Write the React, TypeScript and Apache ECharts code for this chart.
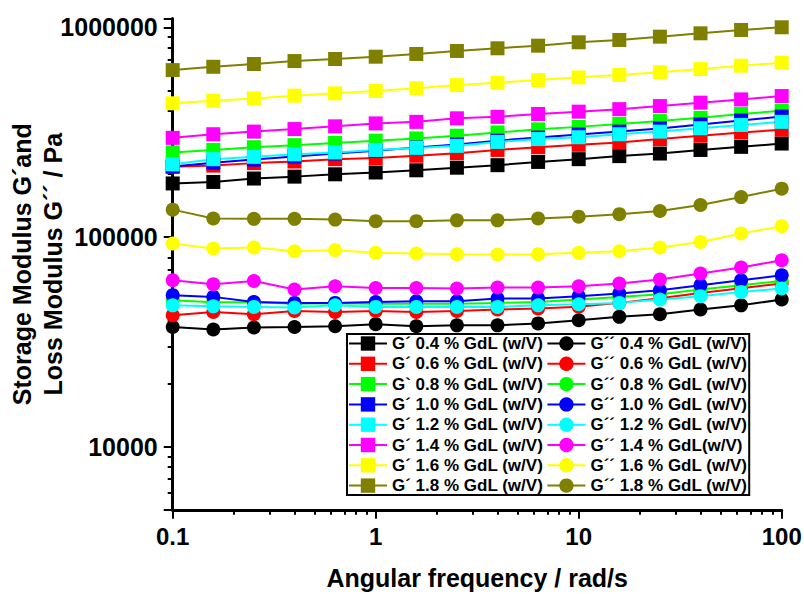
import React, { useEffect, useRef } from 'react';
import * as echarts from 'echarts';

const frequencies = [0.1, 0.1585, 0.2512, 0.3981, 0.631, 1, 1.585, 2.512, 3.981, 6.31, 10, 15.85, 25.12, 39.81, 63.1, 100];

const xTickLabels = ['0.1', '1', '10', '100'];
const yTickLabels = ['10000', '100000', '1000000'];

const colors = ['#000000', '#ff0000', '#00ff00', '#0000ff', '#00ffff', '#ff00ff', '#ffff00', '#808000'];

const storageNames = [
  'G´ 0.4 % GdL (w/V)',
  'G´ 0.6 % GdL (w/V)',
  'G` 0.8 % GdL (w/V)',
  'G´ 1.0 % GdL (w/V)',
  'G´ 1.2 % GdL (w/V)',
  'G´ 1.4 % GdL (w/V)',
  'G´ 1.6 % GdL (w/V)',
  'G´ 1.8 % GdL (w/V)',
];
const lossNames = [
  'G´´ 0.4 % GdL (w/V)',
  'G´´ 0.6 % GdL (w/V)',
  'G´´ 0.8 % GdL (w/V)',
  'G´´ 1.0 % GdL (w/V)',
  'G´´ 1.2 % GdL (w/V)',
  'G´´ 1.4 % GdL(w/V)',
  'G´´ 1.6 % GdL (w/V)',
  'G´´ 1.8 % GdL (w/V)',
];

// Storage modulus G' (Pa)
const gStorage04 = [180000, 183000, 190000, 194000, 199000, 203000, 208000, 214000, 220000, 228000, 235000, 243000, 250000, 260000, 269000, 279000];
const gStorage06 = [216000, 219000, 225000, 229000, 235000, 238000, 244000, 251000, 260000, 268000, 275000, 282000, 293000, 304000, 315000, 325000];
const gStorage08 = [253000, 260000, 268000, 274000, 281000, 288000, 295000, 304000, 315000, 326000, 335000, 346000, 357000, 370000, 386000, 400000];
const gStorage10 = [217000, 226000, 234000, 242000, 250000, 258000, 267000, 276000, 288000, 298000, 308000, 318000, 329000, 344000, 359000, 375000];
const gStorage12 = [222000, 235000, 241000, 248000, 253000, 260000, 266000, 272000, 284000, 293000, 299000, 309000, 318000, 330000, 342000, 354000];
const gStorage14 = [297000, 309000, 318000, 327000, 337000, 348000, 354000, 368000, 374000, 386000, 396000, 407000, 421000, 437000, 453000, 470000];
const gStorage16 = [434000, 446000, 458000, 472000, 484000, 497000, 512000, 530000, 544000, 560000, 577000, 592000, 610000, 632000, 656000, 678000];
const gStorage18 = [625000, 648000, 668000, 690000, 706000, 724000, 746000, 771000, 794000, 817000, 848000, 870000, 902000, 936000, 971000, 1000000];

// Loss modulus G'' (Pa)
const gLoss04 = [37200, 36200, 37000, 37200, 37500, 38400, 37500, 37900, 37900, 38700, 40100, 41600, 42800, 45100, 47200, 50300];
const gLoss06 = [42300, 43900, 42800, 44400, 43900, 44400, 43900, 44400, 45100, 45600, 46500, 48500, 51000, 54000, 57000, 60000];
const gLoss08 = [49900, 48800, 48800, 48000, 48300, 48000, 48000, 48000, 48500, 49000, 50300, 51800, 53300, 56200, 58900, 61700];
const gLoss10 = [52800, 51800, 49000, 48500, 48500, 49000, 49400, 49400, 50900, 50900, 52200, 53700, 55700, 58900, 62200, 65700];
const gLoss12 = [47200, 46700, 46400, 46100, 47200, 46400, 46400, 46400, 46400, 47200, 47800, 48500, 50300, 52200, 54700, 56800];
const gLoss14 = [62200, 59500, 61700, 56200, 58200, 57100, 57100, 56800, 57400, 57400, 58200, 60000, 62700, 67000, 71500, 77500];
const gLoss16 = [93100, 88100, 89100, 85500, 86500, 84000, 83400, 82800, 82500, 82800, 84000, 85500, 89100, 94700, 104000, 112600];
const gLoss18 = [135000, 122500, 122000, 122000, 121000, 119000, 119000, 120000, 120000, 122500, 125000, 128500, 133000, 142000, 155000, 170000];

const storageData = [gStorage04, gStorage06, gStorage08, gStorage10, gStorage12, gStorage14, gStorage16, gStorage18];
const lossData = [gLoss04, gLoss06, gLoss08, gLoss10, gLoss12, gLoss14, gLoss16, gLoss18];

export default function App() {
  const ref = useRef<HTMLDivElement>(null);

  useEffect(() => {
    document.body.style.margin = '0';
    if (!ref.current) return;
    const chart = echarts.init(ref.current, null, { renderer: 'svg' });
    const font = '"Liberation Sans", Arial, Helvetica, sans-serif';
    const fmt = (labels: string[]) => (v: number) => {
      const s = String(Number(v.toPrecision(6)));
      return labels.indexOf(s) >= 0 ? s : '';
    };
    const mk = (names: string[], data: number[][], symbol: string) =>
      data.map((d, i) => ({
        name: names[i],
        type: 'line',
        data: frequencies.map((f, j) => [f, d[j]]),
        symbol,
        symbolSize: 14,
        itemStyle: { color: colors[i] },
        lineStyle: { color: colors[i], width: 2 },
        emphasis: { disabled: true },
      }));
    const series = [...mk(storageNames, storageData, 'rect'), ...mk(lossNames, lossData, 'circle')];

    chart.setOption({
      animation: false,
      backgroundColor: '#ffffff',
      grid: { left: 172.7, right: 22.3, top: 18.6, bottom: 84.2, containLabel: false, outerBoundsMode: 'none' },
      xAxis: {
        type: 'log',
        logBase: 10,
        min: 0.1,
        max: 100,
        axisLine: { show: true, onZero: false, lineStyle: { color: '#000', width: 3 } },
        axisTick: { show: true, length: 9, lineStyle: { color: '#000', width: 2 } },
        minorTick: { show: true, splitNumber: 9, length: 5, lineStyle: { color: '#000', width: 2 } },
        splitLine: { show: false },
        axisLabel: {
          fontSize: 24,
          fontWeight: 'bold',
          color: '#000',
          fontFamily: font,
          margin: 15,
          formatter: fmt(xTickLabels),
        },
        name: 'Angular frequency / rad/s',
        nameLocation: 'middle',
        nameGap: 56,
        nameMoveOverlap: false,
        nameTextStyle: { fontSize: 25, fontWeight: 'bold', color: '#000', fontFamily: font },
      },
      yAxis: {
        type: 'log',
        logBase: 10,
        min: 5000,
        max: 1100000,
        axisLine: { show: true, onZero: false, lineStyle: { color: '#000', width: 3 } },
        axisTick: { show: true, length: 9, lineStyle: { color: '#000', width: 2 } },
        minorTick: { show: true, splitNumber: 9, length: 5, lineStyle: { color: '#000', width: 2 } },
        splitLine: { show: false },
        axisLabel: {
          fontSize: 25,
          fontWeight: 'bold',
          color: '#000',
          fontFamily: font,
          margin: 15,
          formatter: fmt(yTickLabels),
        },
        name: 'Storage Modulus G´and\nLoss Modulus G´´ / Pa',
        nameLocation: 'middle',
        nameRotate: 90,
        nameGap: 104,
        nameMoveOverlap: false,
        nameTextStyle: { fontSize: 25, fontWeight: 'bold', color: '#000', fontFamily: font, lineHeight: 31 },
      },
      legend: {
        orient: 'vertical',
        left: 347,
        top: 334,
        height: 172,
        padding: [1, 2, 1, 1],
        itemWidth: 38,
        itemHeight: 18,
        itemGap: 3.3,
        borderColor: '#000',
        borderWidth: 2,
        backgroundColor: '#fff',
        textStyle: { fontSize: 17, fontWeight: 'bold', color: '#000', fontFamily: font },
        data: [...storageNames, ...lossNames],
      },
      series,
    });
    return () => chart.dispose();
  }, []);

  return <div ref={ref} style={{ width: 804, height: 594 }} />;
}
